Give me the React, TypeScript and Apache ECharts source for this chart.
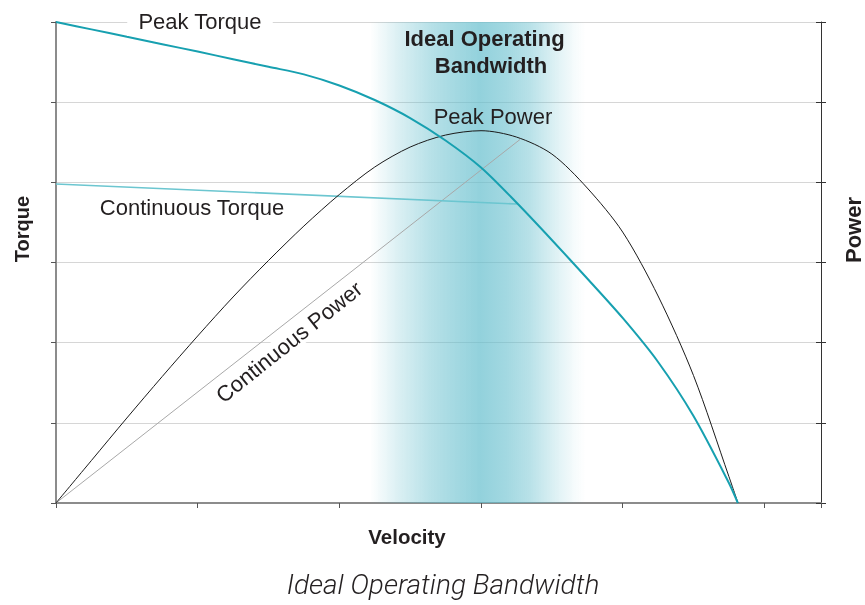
import React, { useEffect, useRef } from "react";
import * as echarts from "echarts";

// Velocity (x) vs Torque / Power (y), arbitrary units
const peakTorque: [number, number][] = [
  [0, 6.0],
  [0.25, 5.908],
  [0.5, 5.815],
  [0.75, 5.723],
  [1.0, 5.631],
  [1.25, 5.536],
  [1.5, 5.441],
  [1.75, 5.347],
  [2.0, 5.208],
  [2.25, 5.027],
  [2.5, 4.802],
  [2.75, 4.522],
  [3.0, 4.185],
  [3.25, 3.748],
  [3.5, 3.281],
  [3.75, 2.8],
  [4.0, 2.308],
  [4.25, 1.759],
  [4.5, 1.085],
  [4.75, 0.25],
  [4.813, 0],
];

const peakPower: [number, number][] = [
  [0, 0],
  [0.25, 0.53],
  [0.5, 1.06],
  [0.75, 1.578],
  [1.0, 2.083],
  [1.25, 2.57],
  [1.5, 3.025],
  [1.75, 3.455],
  [2.0, 3.848],
  [2.25, 4.191],
  [2.5, 4.44],
  [2.75, 4.59],
  [3.0, 4.644],
  [3.25, 4.565],
  [3.5, 4.353],
  [3.75, 3.929],
  [4.0, 3.38],
  [4.25, 2.582],
  [4.5, 1.59],
  [4.75, 0.33],
  [4.814, 0],
];

const continuousTorque: [number, number][] = [
  [0, 3.979],
  [3.253, 3.73],
];

const continuousPower: [number, number][] = [
  [0, 0],
  [3.277, 4.537],
];

const bandwidthRange: [number, number] = [2.218, 3.736];

export default function App() {
  const ref = useRef<HTMLDivElement>(null);

  useEffect(() => {
    const chart = echarts.init(ref.current!, null, { renderer: "svg" });
    const font = "Liberation Sans";
    const band = (a: number) => `rgba(100,190,205,${a})`;

    chart.setOption({
      animation: false,
      grid: { left: 56, right: 44, top: 22, bottom: 102 },
      xAxis: {
        type: "value",
        min: 0,
        max: 5.4,
        interval: 1,
        axisLine: { show: true, lineStyle: { color: "#8c8c8c", width: 2 } },
        axisTick: { show: true, length: 5, lineStyle: { color: "#555", width: 1 } },
        axisLabel: { show: false },
        splitLine: { show: false },
      },
      yAxis: [
        {
          type: "value",
          min: 0,
          max: 6,
          interval: 1,
          position: "left",
          axisLine: { show: true, lineStyle: { color: "#8c8c8c", width: 2 } },
          axisTick: { show: true, length: 5, lineStyle: { color: "#555", width: 1 } },
          axisLabel: { show: false },
          splitLine: { show: true, lineStyle: { color: "#d6d6d6", width: 1 } },
        },
        {
          type: "value",
          min: 0,
          max: 6,
          interval: 1,
          position: "right",
          axisLine: { show: true, onZero: false, lineStyle: { color: "#333", width: 1 } },
          axisTick: { show: true, length: 5, lineStyle: { color: "#333", width: 1 } },
          axisLabel: { show: false },
          splitLine: { show: false },
        },
        {
          type: "value",
          min: 0,
          max: 6,
          interval: 1,
          position: "right",
          axisLine: { show: false },
          axisTick: { show: true, inside: true, length: 5, lineStyle: { color: "#333", width: 1 } },
          axisLabel: { show: false },
          splitLine: { show: false },
        },
      ],
      series: [
        {
          name: "band",
          type: "line",
          z: 1,
          data: [[0, 0]],
          symbol: "none",
          lineStyle: { width: 0, opacity: 0 },
          silent: true,
          markArea: {
            silent: true,
            itemStyle: {
              color: new echarts.graphic.LinearGradient(0, 0, 1, 0, [
                { offset: 0, color: band(0) },
                { offset: 0.14, color: band(0.25) },
                { offset: 0.28, color: band(0.46) },
                { offset: 0.37, color: band(0.56) },
                { offset: 0.51, color: band(0.7) },
                { offset: 0.63, color: band(0.6) },
                { offset: 0.74, color: band(0.46) },
                { offset: 0.87, color: band(0.2) },
                { offset: 0.95, color: band(0.06) },
                { offset: 1, color: band(0) },
              ]),
            },
            data: [[{ xAxis: bandwidthRange[0] }, { xAxis: bandwidthRange[1] }]],
          },
        },
        {
          name: "Continuous Power",
          type: "line",
          z: 3,
          data: continuousPower,
          symbol: "none",
          lineStyle: { color: "#a8a8a8", width: 1 },
        },
        {
          name: "Continuous Torque",
          type: "line",
          z: 3,
          data: continuousTorque,
          symbol: "none",
          lineStyle: { color: "#6cc6d0", width: 1.6 },
        },
        {
          name: "Peak Power",
          type: "line",
          z: 3,
          data: peakPower,
          symbol: "none",
          smooth: 0.3,
          lineStyle: { color: "#1a1a1a", width: 1 },
        },
        {
          name: "Peak Torque",
          type: "line",
          z: 4,
          data: peakTorque,
          symbol: "none",
          smooth: 0.3,
          lineStyle: { color: "#17a0b0", width: 2 },
        },
      ],
      graphic: [
        {
          type: "text",
          x: 200,
          y: 21,
          z: 2,
          style: {
            text: "Peak Torque",
            fontSize: 22,
            fontFamily: font,
            fill: "#231f20",
            align: "center",
            verticalAlign: "middle",
            backgroundColor: "#ffffff",
            padding: [0, 11],
          },
        },
        {
          type: "text",
          x: 192,
          y: 207,
          z: 5,
          style: {
            text: "Continuous Torque",
            fontSize: 22,
            fontFamily: font,
            fill: "#231f20",
            align: "center",
            verticalAlign: "middle",
          },
        },
        {
          type: "text",
          x: 493,
          y: 116,
          z: 5,
          style: {
            text: "Peak Power",
            fontSize: 22,
            fontFamily: font,
            fill: "#231f20",
            align: "center",
            verticalAlign: "middle",
          },
        },
        {
          type: "text",
          x: 289,
          y: 342,
          z: 2,
          rotation: (38.6 * Math.PI) / 180,
          style: {
            text: "Continuous Power",
            fontSize: 22,
            fontFamily: font,
            fill: "#231f20",
            align: "center",
            verticalAlign: "middle",
            backgroundColor: "#ffffff",
            padding: [0, 2],
          },
        },
        {
          type: "text",
          x: 484.5,
          y: 38,
          z: 5,
          style: {
            text: "Ideal Operating",
            fontSize: 22,
            fontWeight: "bold",
            fontFamily: font,
            fill: "#231f20",
            align: "center",
            verticalAlign: "middle",
          },
        },
        {
          type: "text",
          x: 491,
          y: 65,
          z: 5,
          style: {
            text: "Bandwidth",
            fontSize: 22,
            fontWeight: "bold",
            fontFamily: font,
            fill: "#231f20",
            align: "center",
            verticalAlign: "middle",
          },
        },
        {
          type: "text",
          x: 407,
          y: 536,
          z: 5,
          style: {
            text: "Velocity",
            fontSize: 20.5,
            fontWeight: "bold",
            fontFamily: font,
            fill: "#231f20",
            align: "center",
            verticalAlign: "middle",
          },
        },
        {
          type: "text",
          x: 22,
          y: 229,
          z: 5,
          rotation: Math.PI / 2,
          style: {
            text: "Torque",
            fontSize: 20,
            fontWeight: "bold",
            fontFamily: font,
            fill: "#231f20",
            align: "center",
            verticalAlign: "middle",
          },
        },
        {
          type: "text",
          x: 853,
          y: 230,
          z: 5,
          rotation: Math.PI / 2,
          style: {
            text: "Power",
            fontSize: 22,
            fontWeight: "bold",
            fontFamily: font,
            fill: "#231f20",
            align: "center",
            verticalAlign: "middle",
          },
        },
        {
          type: "text",
          x: 443,
          y: 584,
          z: 5,
          style: {
            text: "Ideal Operating Bandwidth",
            fontSize: 28,
            fontStyle: "italic",
            fontWeight: 300,
            fontFamily: "Roboto",
            fill: "#231f20",
            align: "center",
            verticalAlign: "middle",
          },
        },
      ],
    });

    return () => chart.dispose();
  }, []);

  return (
    <div
      ref={ref}
      style={{ position: "fixed", left: 0, top: 0, width: 865, height: 605 }}
    />
  );
}
